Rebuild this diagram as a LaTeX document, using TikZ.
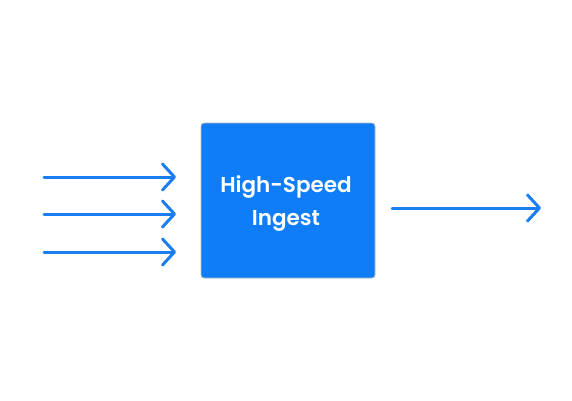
\documentclass[tikz,border=0pt]{standalone}
\usepackage{fontspec}
\setmainfont{Poppins}[BoldFont={Poppins SemiBold}]
\usetikzlibrary{arrows.meta}
\definecolor{ingestblue}{HTML}{0F7DF8}
\definecolor{arrowblue}{HTML}{1A7DF2}
\begin{document}
\begin{tikzpicture}[x=1pt, y=-1pt, box_style/.style={draw=gray!55, line width=0.8pt, fill=ingestblue, rounded corners=3pt, minimum width=174pt, minimum height=155pt, inner sep=0pt}, label_style/.style={text=white, font=\bfseries\fontsize{21.5}{33}\selectfont, align=center, inner sep=0pt}, flow_style/.style={draw=arrowblue, line width=3pt, line cap=round, -{Straight Barb[length=12pt, width=26pt, line cap=round, line join=round]}}]
      \useasboundingbox (0,0) rectangle (572,400);
      \draw
        (288, 200.5) node[box_style] (ingest){}
        (286, 203) node[label_style] (ingest_text){High-Speed\\Ingest}
        (44, 177) coordinate (in1)
        (44, 214) coordinate (in2)
        (44, 252) coordinate (in3)
        (176, 177) coordinate (tip1)
        (176, 214) coordinate (tip2)
        (176, 252) coordinate (tip3)
        (392, 208) coordinate (out_start)
        (541, 208) coordinate (out_end);
      \begin{scope}
        \draw[flow_style] (in1) -- (tip1);
        \draw[flow_style] (in2) -- (tip2);
        \draw[flow_style] (in3) -- (tip3);
        \draw[flow_style] (out_start) -- (out_end);
      \end{scope}
    \end{tikzpicture}
\end{document}
